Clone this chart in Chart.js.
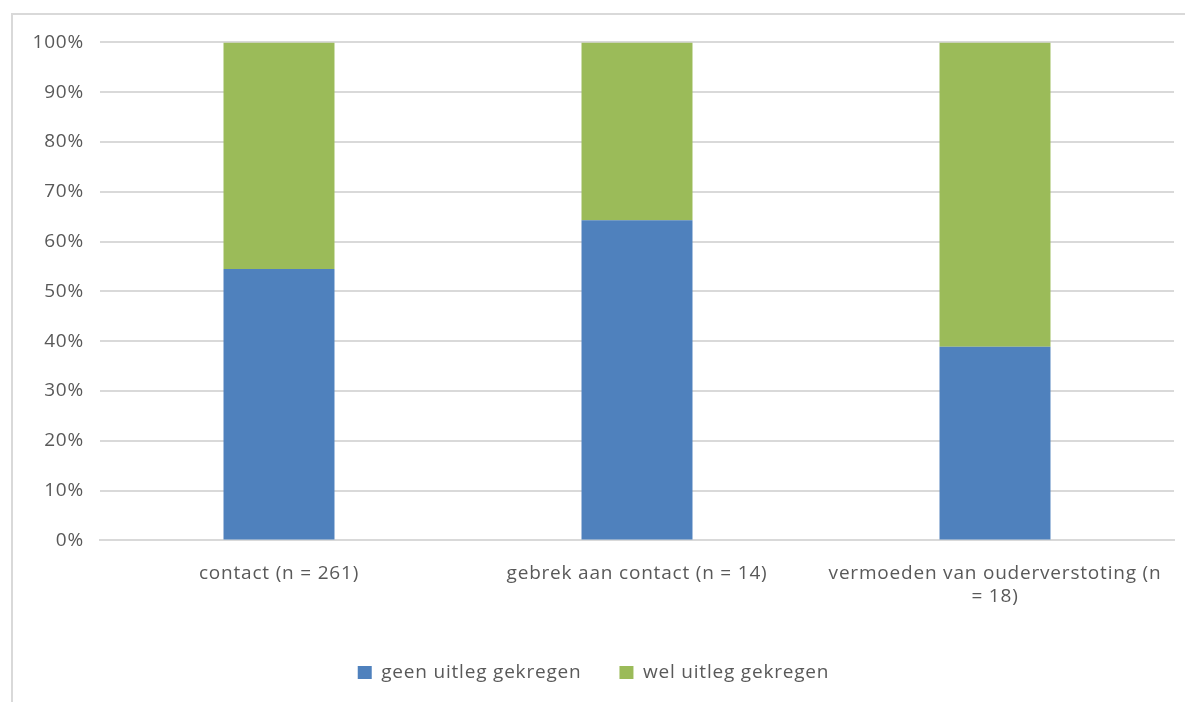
<!DOCTYPE html>
<html>
<head>
<meta charset="utf-8">
<script src="https://cdn.jsdelivr.net/npm/chart.js@4/dist/chart.umd.min.js"></script>
<style>
  body { margin: 0; background: #fff; }
  #wrap { position: absolute; left: 11px; top: 13px; width: 1172px; height: 687px; border: 2px solid #d9d9d9; border-right: none; border-bottom: none; }
</style>
</head>
<body>
<div id="wrap"><canvas id="barChart" width="1174" height="689"></canvas></div>
<script>
var categories = ['contact (n = 261)', 'gebrek aan contact (n = 14)', ['vermoeden van ouderverstoting (n', '= 18)']];
var geenUitleg = [54.5, 64.3, 38.9];
var welUitleg = [45.5, 35.7, 61.1];
var yTicks = [0, 10, 20, 30, 40, 50, 60, 70, 80, 90, 100];

Chart.defaults.font.family = '"Open Sans", Lato, sans-serif';
Chart.defaults.font.size = 19;
Chart.defaults.color = '#595959';

// the reference text is a bit wider, so spread the letters
var spacing = {
    id: 'spacing',
    beforeUpdate: function(chart) { chart.ctx.letterSpacing = '0.8px'; },
    beforeDraw: function(chart) { chart.ctx.letterSpacing = '0.8px'; }
};

var ctx = document.getElementById('barChart').getContext('2d');
var myChart = new Chart(ctx, {
    type: 'bar',
    plugins: [spacing],
    data: {
        labels: categories,
        datasets: [
            { label: 'geen uitleg gekregen', data: geenUitleg, backgroundColor: '#4f81bd' },
            { label: 'wel uitleg gekregen', data: welUitleg, backgroundColor: '#9bbb59' }
        ]
    },
    options: {
        responsive: false,
        animation: false,
        layout: { padding: { top: 27, right: 13, left: 0, bottom: 12 } },
        datasets: { bar: { categoryPercentage: 1, barPercentage: 0.31 } },
        scales: {
            x: {
                stacked: true,
                grid: { display: false, drawTicks: false },
                border: { color: '#d9d9d9', width: 2 },
                ticks: { padding: 22, maxRotation: 0, autoSkip: false },
                afterFit: function(axis) { axis.height = axis.height - 5; }
            },
            y: {
                stacked: true,
                min: 0, max: 100,
                afterBuildTicks: function(axis) { axis.ticks = yTicks.map(function(v){ return { value: v }; }); },
                afterFit: function(axis) { axis.width = 87; },
                grid: { color: '#d9d9d9', lineWidth: 2, drawTicks: false },
                border: { display: false },
                ticks: { padding: 16, callback: function(v) { return v + '%'; } }
            }
        },
        plugins: {
            legend: {
                position: 'bottom',
                labels: { boxWidth: 14, boxHeight: 13, padding: 38, color: '#595959' }
            },
            tooltip: { enabled: false }
        }
    }
});
</script>
</body>
</html>
